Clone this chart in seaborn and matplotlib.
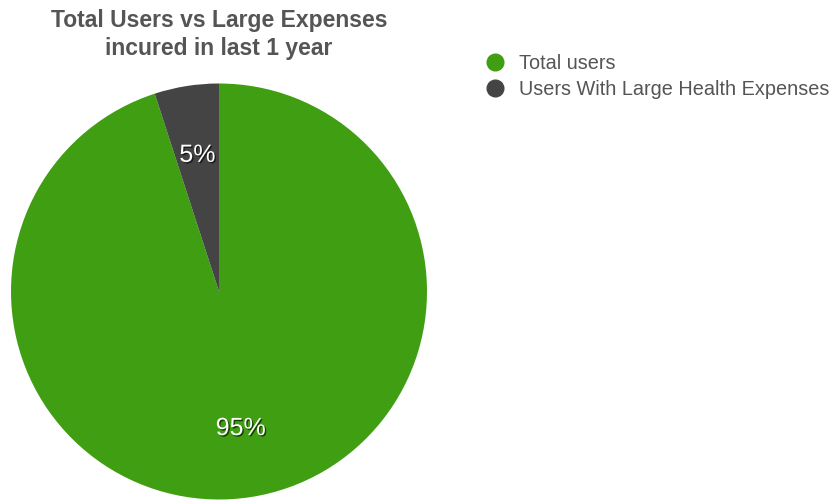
import matplotlib
matplotlib.use("Agg")
import matplotlib.pyplot as plt
import matplotlib.patheffects as pe
from matplotlib.lines import Line2D
import seaborn as sns

# Share of users by expense group
categories = ["Total users", "Users With Large Health Expenses"]
shares = [95, 5]
colors = ["#3f9e12", "#444444"]
title_lines = ["Total Users vs Large Expenses", "incured in last 1 year"]

sns.set_theme(style="white")
plt.rcParams["font.family"] = ["Liberation Sans", "DejaVu Sans"]

W, H = 838, 500
fig = plt.figure(figsize=(W / 100, H / 100), dpi=100)
fig.patch.set_facecolor("white")

# Pie axes: square area positioned in pixel units
cx, cy, r = 219, 291.5, 208
ax = fig.add_axes([(cx - r) / W, (H - cy - r) / H, 2 * r / W, 2 * r / H])

shadow = [pe.SimplePatchShadow(offset=(1, -1), shadow_rgbFace="black", alpha=0.6), pe.Normal()]

wedges, texts, autotexts = ax.pie(
    shares,
    colors=colors,
    startangle=90,
    counterclock=False,
    autopct=lambda p: f"{p:.0f}%",
    pctdistance=0.665,
    wedgeprops=dict(linewidth=0),
    textprops=dict(color="white", fontsize=18),
)
for t in autotexts:
    t.set_path_effects(shadow)
ax.set_xlim(-1, 1)
ax.set_ylim(-1, 1)
ax.set_aspect("equal")
ax.axis("off")

fig.text(cx / W, 1 - 21 / H, title_lines[0], ha="center", va="center",
         fontsize=16.5, color="#555555", fontweight="bold")
fig.text(cx / W, 1 - 48 / H, title_lines[1], ha="center", va="center",
         fontsize=16.5, color="#555555", fontweight="bold")

handles = [Line2D([], [], marker="o", linestyle="", markersize=12,
                  markerfacecolor=c, markeredgecolor=c) for c in colors]
leg = fig.legend(handles, categories, loc="upper left",
                 bbox_to_anchor=(486 / W, 1 - 54 / H), frameon=False,
                 fontsize=14.3, handletextpad=0.75, labelspacing=0.33,
                 handlelength=0.9, borderaxespad=0, borderpad=0)
for t in leg.get_texts():
    t.set_color("#555555")

fig.savefig("out.png", dpi=100, facecolor="white")
